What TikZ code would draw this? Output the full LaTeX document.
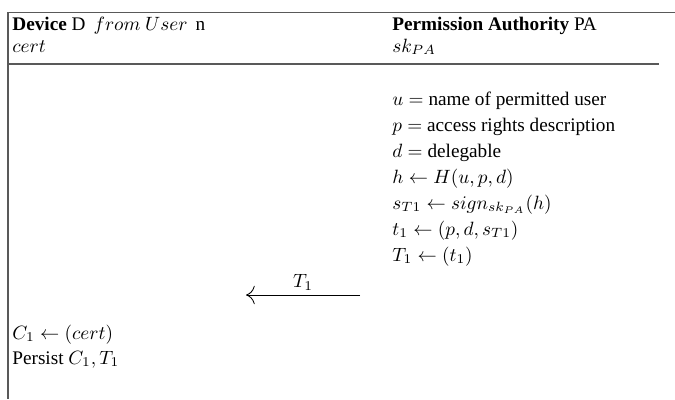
\documentclass[tikz,border=0pt]{standalone}
\usepackage[no-math]{fontspec}
\setmainfont{Liberation Serif}
\usetikzlibrary{arrows.meta}

\begin{document}
\begin{tikzpicture}[
  x=0.52pt,y=-0.52pt,
  txt/.style={anchor=base west,inner sep=0pt},
  frameline/.style={draw=black!65,line width=.6pt},
  msg/.style={-{To[length=1.6mm]},line width=.45pt},
  msglabel/.style={inner sep=2pt}
]
\useasboundingbox (0,0) rectangle (675,399);
\draw[frameline] (675,12.5) -- (8,12.5) -- (8,399);
\draw[frameline] (8,64) -- (659,64);

\node[txt] (dev) at (12,30) {\textbf{Device} D $\,from\ User\,$ n};
\node[txt] (cert) at (12,52) {$cert$};
\node[txt] (pa) at (392,30) {\textbf{Permission Authority} PA};
\node[txt] (skpa) at (392,52) {$sk_{PA}$};

\node[txt] (u) at (392,105) {$u =$ name of permitted user};
\node[txt] (p) at (392,131) {$p =$ access rights description};
\node[txt] (d) at (392,157) {$d =$ delegable};
\node[txt] (h) at (392,183) {$h \leftarrow H(u,p,d)$};
\node[txt] (s) at (392,209) {$s_{T1} \leftarrow sign_{sk_{PA}}(h)$};
\node[txt] (t) at (392,235) {$t_1 \leftarrow (p,d,s_{T1})$};
\node[txt] (tok) at (392,261) {$T_1 \leftarrow (t_1)$};

\coordinate (msgfrom) at (360,295);
\coordinate (msgto) at (246,295);
\draw[msg] (msgfrom) -- node[msglabel,above] (msgT) {$T_1$} (msgto);

\node[txt] (c1) at (12,339) {$C_1 \leftarrow (cert)$};
\node[txt] (persist) at (12,364) {Persist $C_1, T_1$};
\end{tikzpicture}
\end{document}
